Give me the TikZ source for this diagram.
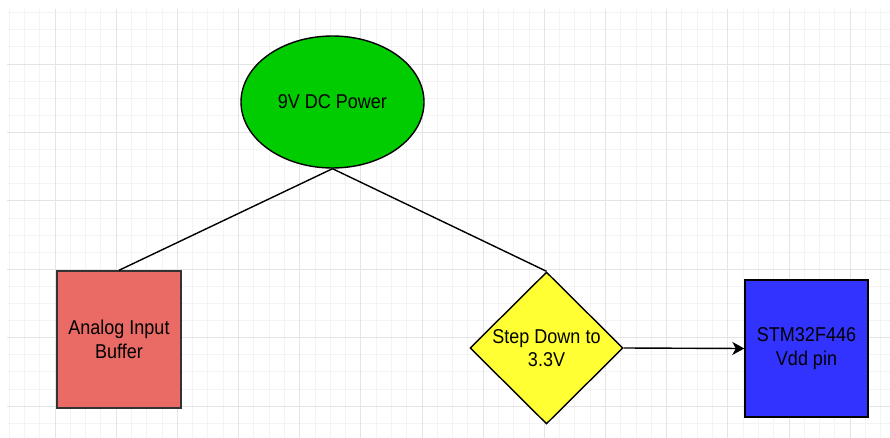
\documentclass[tikz,border=0pt]{standalone}
\usepackage{fontspec}
\usetikzlibrary{shapes.geometric,arrows.meta}
\newfontfamily\labelfont[FakeStretch=0.9]{Liberation Sans}
\definecolor{gridminor}{HTML}{F3F3F3}
\definecolor{gridmajor}{HTML}{E4E4E4}
\definecolor{powergreen}{HTML}{00CC00}
\definecolor{bufferred}{HTML}{EA6B66}
\definecolor{stepyellow}{HTML}{FFFF33}
\definecolor{mcublue}{HTML}{3333FF}
\definecolor{edgegray}{HTML}{333333}
\tikzset{
  blocktext/.style={font=\labelfont\fontsize{20pt}{23.5pt}\selectfont, align=center, text=black},
  shapeline/.style={draw=black, line width=1.4pt},
  wire/.style={draw=black, line width=1.4pt},
}
\begin{document}
\begin{tikzpicture}[x=1pt,y=-1pt]
  \useasboundingbox (0,0) rectangle (890,438);
  \fill[white] (0,0) rectangle (890,438);

  % background grid: minor lines every 10 units, major every 40
  \foreach \k in {0,...,57} {
    \pgfmathsetmacro{\gx}{9.1+15.29*\k}
    \draw[gridminor, line width=0.8pt] (\gx,9) -- (\gx,438);
  }
  \foreach \k in {0,...,25} {
    \pgfmathsetmacro{\gy}{12.7+17.1*\k}
    \draw[gridminor, line width=0.8pt] (7,\gy) -- (890,\gy);
  }
  \foreach \k in {0,...,14} {
    \pgfmathsetmacro{\gx}{55+61.16*\k}
    \draw[gridmajor, line width=0.8pt] (\gx,9) -- (\gx,438);
  }
  \foreach \k in {0,...,5} {
    \pgfmathsetmacro{\gy}{64+68.4*\k}
    \draw[gridmajor, line width=0.8pt] (7,\gy) -- (890,\gy);
  }

  % blocks
  \node[ellipse, shapeline, fill=powergreen, minimum width=183pt, minimum height=132pt,
        inner sep=0pt, blocktext] (power) at (332.5,102) {9V DC Power};
  \node[rectangle, draw=edgegray, line width=1.4pt, fill=bufferred, minimum width=124pt,
        minimum height=137pt, inner sep=0pt, blocktext] (buffer) at (119,339.5) {Analog Input\\Buffer};
  \node[diamond, shapeline, fill=stepyellow, minimum width=153pt, minimum height=152pt,
        inner sep=0pt] (step) at (546.5,348) {};
  \node[blocktext] (steptext) at (step.center) {Step Down to\\3.3V};
  \node[rectangle, shapeline, fill=mcublue, minimum width=123pt, minimum height=137pt,
        inner sep=0pt, blocktext] (mcu) at (806.5,348.5) {STM32F446\\Vdd pin};

  % connectors
  \draw[wire] (power.south) -- (buffer.north);
  \draw[wire] (power.south) -- (step.north);
  \draw[wire, -{Stealth[length=12pt, width=13pt, inset=3.5pt]}] (step.east) -- (mcu.west);
\end{tikzpicture}
\end{document}
